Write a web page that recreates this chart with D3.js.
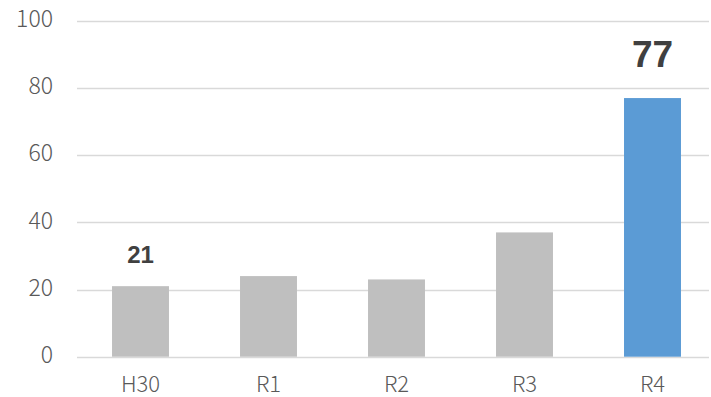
<!DOCTYPE html>
<html>
<head>
<meta charset="utf-8">
<script src="https://cdn.jsdelivr.net/npm/d3@7"></script>
<style>
  body { margin: 0; background: #fff; }
  svg { display: block; }
  .tick text { font-family: "Noto Sans CJK JP", "Noto Sans", sans-serif; font-weight: 300; fill: #595959; }
  .lbl { font-family: "Liberation Sans", Arial, sans-serif; font-weight: bold; fill: #404040; }
</style>
</head>
<body>
<svg width="711" height="397"></svg>
<script>
var categories = ["H30", "R1", "R2", "R3", "R4"];
var values = [21, 24, 23, 37, 77];
var shownLabels = [21, null, null, null, 77];
var yTicks = [0, 20, 40, 60, 80, 100];

var svg = d3.select("svg"),
  width = 711,
  height = 397;

var x = d3.scaleBand()
  .domain(categories)
  .range([76.5, 716.5])
  .paddingInner(0.555)
  .paddingOuter(0.2775);

var y = d3.scaleLinear()
  .domain([0, 100])
  .range([356.7, 20.8]);

// gridlines
svg.append("g")
  .selectAll("line")
  .data(yTicks)
  .enter().append("line")
  .attr("x1", 77)
  .attr("x2", 709)
  .attr("y1", function(d) { return Math.round(y(d)) + 0.5; })
  .attr("y2", function(d) { return Math.round(y(d)) + 0.5; })
  .attr("stroke", "#d9d9d9")
  .attr("stroke-width", 1.3);

// y tick labels
var yAxis = svg.append("g")
  .attr("transform", "translate(77,0)")
  .call(d3.axisLeft(y).tickValues(yTicks).tickSize(0).tickPadding(24));
yAxis.select(".domain").remove();
yAxis.selectAll("text")
  .attr("font-size", "23px")
  .attr("dy", "0.25em");

// bars
svg.append("g")
  .selectAll("rect")
  .data(values)
  .enter().append("rect")
  .attr("x", function(d, i) { return x(categories[i]); })
  .attr("width", x.bandwidth())
  .attr("y", function(d) { return y(d); })
  .attr("height", function(d) { return y(0) - y(d); })
  .attr("fill", function(d, i) { return i == categories.length - 1 ? "#5b9bd5" : "#bfbfbf"; });

// x labels
var xAxis = svg.append("g")
  .attr("transform", "translate(0,357)")
  .call(d3.axisBottom(x).tickSize(0).tickPadding(0));
xAxis.select(".domain").remove();
xAxis.selectAll("text")
  .attr("font-size", "22px")
  .attr("dy", null)
  .attr("y", 35);

// value labels
svg.append("g")
  .selectAll("text")
  .data(shownLabels)
  .enter().append("text")
  .filter(function(d) { return d != null; })
  .attr("class", "lbl")
  .attr("text-anchor", "middle")
  .attr("x", function(d) { return x(categories[shownLabels.indexOf(d)]) + x.bandwidth() / 2; })
  .attr("y", function(d) { return d > 50 ? y(d) - 31 : y(d) - 23; })
  .attr("font-size", function(d) { return d > 50 ? "37px" : "24px"; })
  .text(function(d) { return d; });
</script>
</body>
</html>
